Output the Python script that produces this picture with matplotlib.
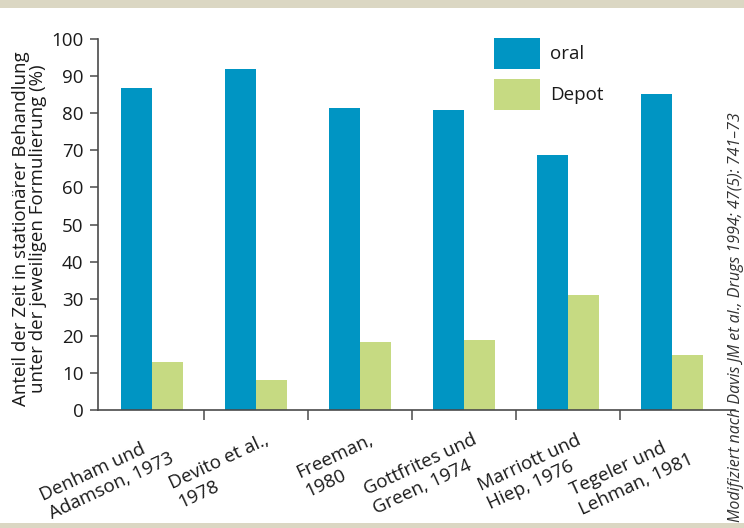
import matplotlib
matplotlib.use("Agg")
import matplotlib.pyplot as plt
import matplotlib.transforms as mtransforms
from matplotlib.patches import Rectangle
import numpy as np

plt.rcParams['font.family'] = ['Open Sans', 'DejaVu Sans']

studies = ["Denham und\nAdamson, 1973", "Devito et al.,\n1978", "Freeman,\n1980",
           "Gottfrites und\nGreen, 1974", "Marriott und\nHiep, 1976", "Tegeler und\nLehman, 1981"]
oral = [86.8, 91.9, 81.4, 80.9, 68.7, 85.2]
depot = [13, 8, 18.3, 19, 31, 14.8]
series_names = ["oral", "Depot"]
yticks = [0, 10, 20, 30, 40, 50, 60, 70, 80, 90, 100]

BLUE = "#0095c3"
GREEN = "#c6da82"
BEIGE = "#dbd7c3"
TXT = "#1a1a1a"
AXC = "#4a4a4a"
FS = 13.5

W, H = 744, 528
fig = plt.figure(figsize=(W / 100, H / 100), dpi=100)
fig.patch.set_facecolor("white")

# beige bands
fig.patches.append(Rectangle((0, 1 - 8 / H), 1, 8 / H, transform=fig.transFigure,
                             facecolor=BEIGE, edgecolor="none", zorder=0))
fig.patches.append(Rectangle((0, 0), 1, 5 / H, transform=fig.transFigure,
                             facecolor=BEIGE, edgecolor="none", zorder=0))

left, right, bottom, top = 98, 735, 410, 39
ax = fig.add_axes([left / W, (H - bottom) / H, (right - left) / W, (bottom - top) / H])

x = np.arange(len(studies))
bw = 0.298
ax.bar(x - bw / 2, oral, width=bw, color=BLUE, label=series_names[0], zorder=2)
ax.bar(x + bw / 2, depot, width=bw, color=GREEN, label=series_names[1], zorder=2)

ax.set_xlim(-0.52, 5.605)
ax.set_ylim(0, 100)

for s in ["top", "right"]:
    ax.spines[s].set_visible(False)
for s in ["left", "bottom"]:
    ax.spines[s].set_color(AXC)
    ax.spines[s].set_linewidth(1.2)

ax.set_yticks(yticks)
ax.set_yticklabels([str(v) for v in yticks], fontsize=FS, color=TXT)
ax.tick_params(axis="y", length=6, width=1.1, color=AXC, pad=4.5)

# boundaries as major ticks, labels at group centers as minor ticks
ax.set_xticks(x[:-1] + 0.5)
ax.set_xticklabels([])
ax.tick_params(axis="x", which="major", length=7, width=1.1, color=AXC)
ax.set_xticks(x, minor=True)
ax.set_xticklabels(studies, minor=True, fontsize=FS, color=TXT, rotation=25,
                   ha="right", va="top", rotation_mode="anchor", multialignment="left")
ax.tick_params(axis="x", which="minor", length=0, pad=15)
offset = mtransforms.ScaledTranslation(8 / 100, 0, fig.dpi_scale_trans)
for lab in ax.get_xticklabels(minor=True):
    lab.set_transform(lab.get_transform() + offset)

ax.set_ylabel("Anteil der Zeit in stationärer Behandlung\nunter der jeweiligen Formulierung (%)",
              fontsize=FS, color=TXT, linespacing=0.95)
ax.yaxis.set_label_coords((47 - left) / (right - left), 0.49)

fs_px = FS * 100 / 72
hh = (31 / fs_px - 0.245) / 0.65
leg = ax.legend(loc="upper left",
                bbox_to_anchor=((494 - left) / (right - left), (bottom - 38) / (bottom - top)),
                frameon=False, fontsize=FS, handlelength=46 / fs_px, handleheight=hh,
                labelspacing=10 / fs_px, handletextpad=0.55,
                borderpad=0, borderaxespad=0)
for t in leg.get_texts():
    t.set_color(TXT)

fig.text(736 / W, 6 / H, "Modifiziert nach Davis JM et al., Drugs 1994; 47(5): 741–73",
         rotation=90, ha="center", va="bottom", fontsize=11.5, style="italic", color="#333333")

fig.savefig("out.png", dpi=100)
